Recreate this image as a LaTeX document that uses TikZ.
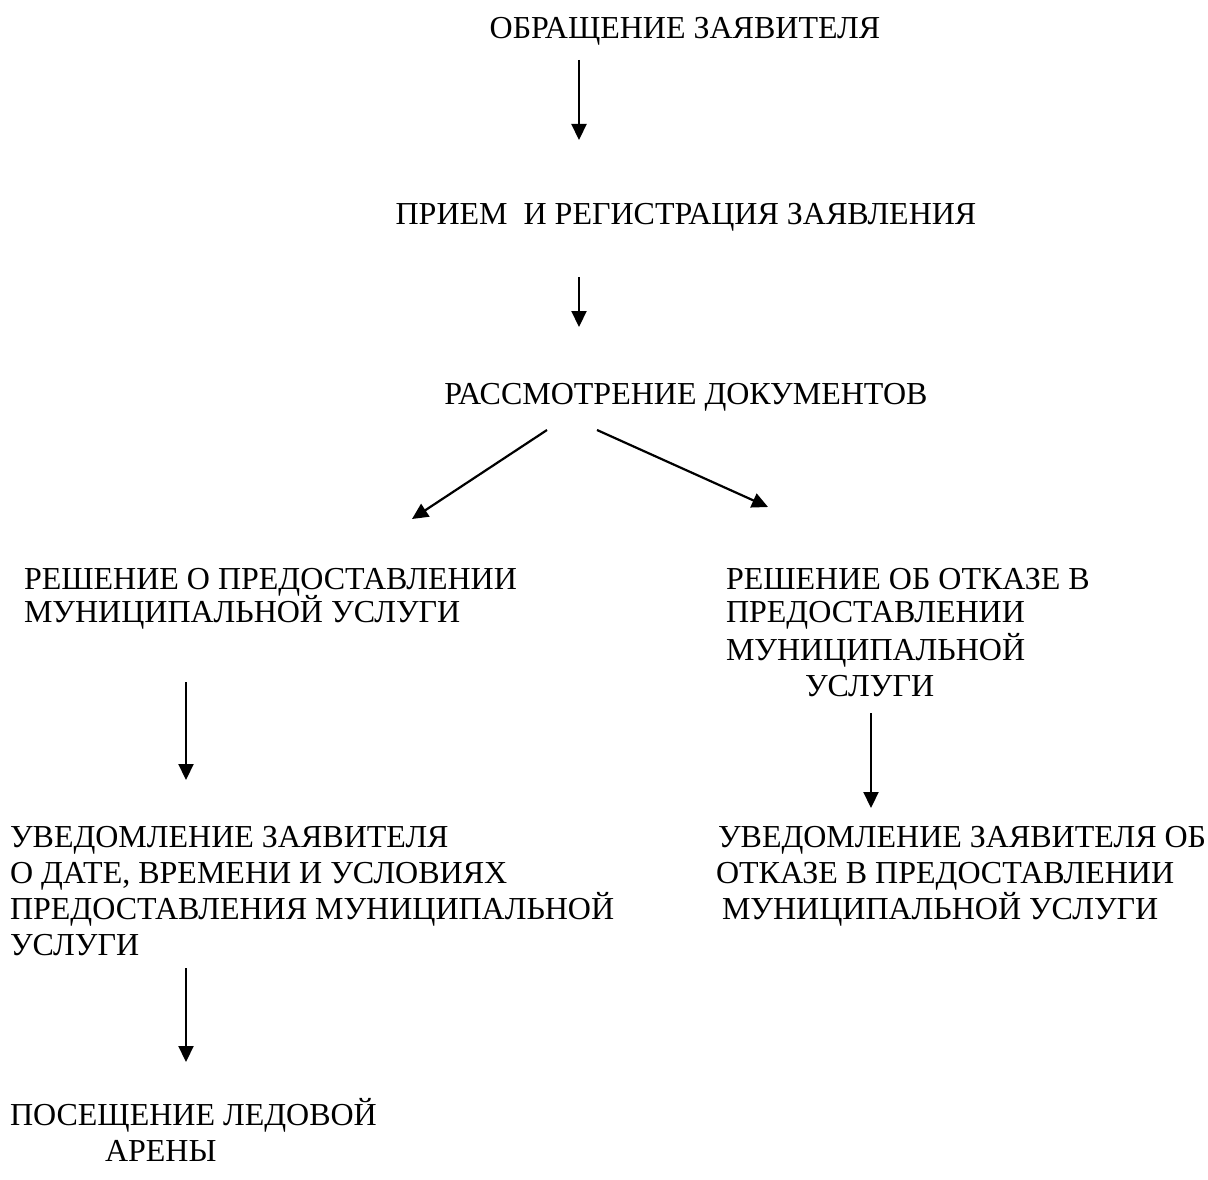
\documentclass[tikz,border=0pt]{standalone}
\usepackage{fontspec}
\setmainfont{Liberation Serif}
\usetikzlibrary{arrows.meta}
\begin{document}
\begin{tikzpicture}[x=1pt,y=-1pt,
  lbl/.style={inner sep=0pt,outer sep=0pt,align=left,anchor=north west,font=\fontsize{32}{36}\selectfont},
  ctr/.style={inner sep=0pt,outer sep=0pt,anchor=base,font=\fontsize{32}{36}\selectfont},
  arr/.style={line width=2.2pt,-{Triangle[length=16pt,width=15pt]}}]
\useasboundingbox (0,0) rectangle (1208,1180);
\node[ctr] (n1) at (685,39) {ОБРАЩЕНИЕ ЗАЯВИТЕЛЯ};
\node[ctr] (n2) at (686,224) {ПРИЕМ\ \ И РЕГИСТРАЦИЯ ЗАЯВЛЕНИЯ};
\node[ctr] (n3) at (686,404) {РАССМОТРЕНИЕ ДОКУМЕНТОВ};
\node[lbl] (n4) at (24,568) {РЕШЕНИЕ О ПРЕДОСТАВЛЕНИИ\\[-3pt]МУНИЦИПАЛЬНОЙ УСЛУГИ};
\node[lbl] (n5) at (726,568) {РЕШЕНИЕ ОБ ОТКАЗЕ В\\[-3pt]ПРЕДОСТАВЛЕНИИ\\[2pt]МУНИЦИПАЛЬНОЙ\\\hspace*{79pt}УСЛУГИ};
\node[lbl] (n6) at (10,826) {УВЕДОМЛЕНИЕ ЗАЯВИТЕЛЯ\\О ДАТЕ, ВРЕМЕНИ И УСЛОВИЯХ\\ПРЕДОСТАВЛЕНИЯ МУНИЦИПАЛЬНОЙ\\УСЛУГИ};
\node[lbl] (n7) at (716,826) {\hspace*{2pt}УВЕДОМЛЕНИЕ ЗАЯВИТЕЛЯ ОБ\\ОТКАЗЕ В ПРЕДОСТАВЛЕНИИ\\\hspace*{6pt}МУНИЦИПАЛЬНОЙ УСЛУГИ};
\node[lbl] (n8) at (10,1098) {ПОСЕЩЕНИЕ ЛЕДОВОЙ\\\hspace*{95pt}АРЕНЫ};
% connector end points
\coordinate (a1s) at (579,60);   \coordinate (a1e) at (579,140);
\coordinate (a2s) at (579,277);  \coordinate (a2e) at (579,327);
\coordinate (a3s) at (547,430);  \coordinate (a3e) at (412,519);
\coordinate (a4s) at (597,430);  \coordinate (a4e) at (768,507);
\coordinate (a5s) at (186,682);  \coordinate (a5e) at (186,780);
\coordinate (a6s) at (871,713);  \coordinate (a6e) at (871,808);
\coordinate (a7s) at (186,968);  \coordinate (a7e) at (186,1062);
\draw[arr] (a1s) -- (a1e);
\draw[arr] (a2s) -- (a2e);
\draw[arr] (a3s) -- (a3e);
\draw[arr] (a4s) -- (a4e);
\draw[arr] (a5s) -- (a5e);
\draw[arr] (a6s) -- (a6e);
\draw[arr] (a7s) -- (a7e);
\end{tikzpicture}
\end{document}
